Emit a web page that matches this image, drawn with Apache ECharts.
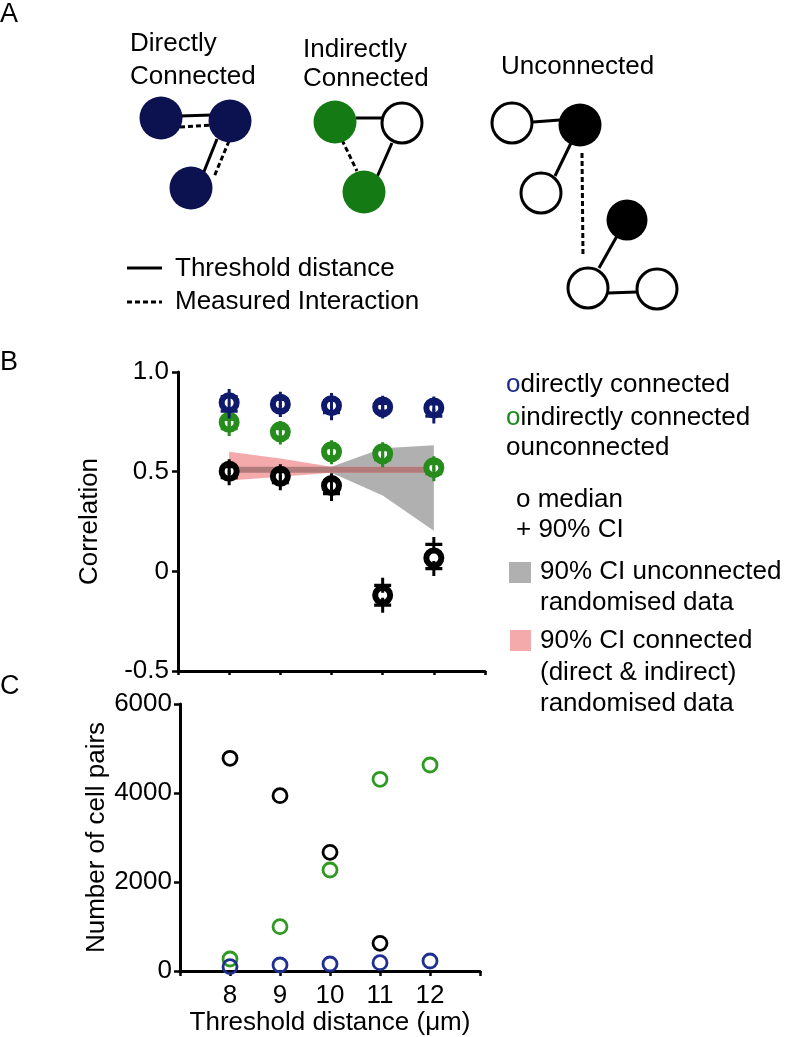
<!DOCTYPE html>
<html>
<head>
<meta charset="utf-8">
<script src="https://cdn.jsdelivr.net/npm/echarts@6/dist/echarts.min.js"></script>
<style>
html,body{margin:0;padding:0;background:#fff;}
#chart{width:787px;height:1037px;}
</style>
</head>
<body>
<div id="chart"></div>
<script>
// ---- Data ----
var thresholds = [8, 9, 10, 11, 12];
// Panel B: correlation medians and 90% CI
var directMedian   = [0.846, 0.838, 0.831, 0.825, 0.820];
var directCILow    = [0.804, 0.812, 0.796, 0.804, 0.779];
var directCIHigh   = [0.877, 0.863, 0.857, 0.843, 0.840];
var indirectMedian = [0.748, 0.700, 0.600, 0.590, 0.520];
var indirectCILow  = [0.716, 0.674, 0.575, 0.560, 0.490];
var indirectCIHigh = [0.762, 0.716, 0.620, 0.610, 0.540];
var unconnMedian   = [0.502, 0.477, 0.430, -0.120, 0.067];
var unconnCILow    = [0.470, 0.445, 0.390, -0.170, 0.014];
var unconnCIHigh   = [0.525, 0.500, 0.455, -0.070, 0.135];
// randomised-data 90% CI bands
var randUnconnLow  = [0.495, 0.495, 0.495, 0.380, 0.203];
var randUnconnHigh = [0.525, 0.525, 0.525, 0.617, 0.633];
var randConnLow    = [0.456, 0.474, 0.495, 0.495, 0.495];
var randConnHigh   = [0.600, 0.566, 0.525, 0.525, 0.525];
// Panel C: number of cell pairs (unconnected at 12 µm is hidden behind the blue marker)
var pairsDirect    = [97, 135, 157, 187, 225];
var pairsIndirect  = [270, 996, 2270, 4308, 4629];
var pairsUnconn    = [4780, 3940, 2667, 622, null];
// Tick labels
var corrTicks = [-0.5, 0, 0.5, 1.0];
var pairTicks = [0, 2000, 4000, 6000];

// ---- Styling ----
var FONT = '"Liberation Sans", Arial, Helvetica, sans-serif';
var NAVY = '#0c1150';
var NAVY_B = '#0f1a6c';
var GREEN_A = '#147a14';
var GREEN_B = '#268c1c';
var BLUE_C = '#1f2f8f';
var GREEN_C = '#2f9a22';
var GRAY_BAND = '#b0b0b0';
var PINK_BAND = '#f4aaab';
var ROSY = '#b17b7b';

var PLUS = 'path://M-1.5,-7L1.5,-7L1.5,-1.5L8.5,-1.5L8.5,1.5L1.5,1.5L1.5,7L-1.5,7L-1.5,1.5L-8.5,1.5L-8.5,-1.5L-1.5,-1.5Z';

function pairs(xs, ys) {
  var out = [];
  xs.forEach(function (x, i) { if (ys[i] != null) out.push([x, ys[i]]); });
  return out;
}
function ciPoints(xs, lo, hi) {
  var out = [];
  xs.forEach(function (x, i) { out.push([x, lo[i]]); out.push([x, hi[i]]); });
  return out;
}
function bandSeries(lo, hi, color, z) {
  return {
    type: 'custom', xAxisIndex: 0, yAxisIndex: 0, z: z, silent: true,
    data: thresholds.map(function (x, i) { return [x, lo[i], hi[i]]; }),
    encode: { x: 0, y: [1, 2] },
    renderItem: function (params, api) {
      if (params.dataIndex !== 0) return null;
      var pts = [];
      for (var i = 0; i < thresholds.length; i++) pts.push(api.coord([thresholds[i], hi[i]]));
      for (var j = thresholds.length - 1; j >= 0; j--) pts.push(api.coord([thresholds[j], lo[j]]));
      return { type: 'polygon', shape: { points: pts }, style: { fill: color } };
    }
  };
}
var overlapLow = thresholds.map(function (x, i) { return Math.max(randUnconnLow[i], randConnLow[i]); });
var overlapHigh = thresholds.map(function (x, i) { return Math.min(randUnconnHigh[i], randConnHigh[i]); });

function medianSeries(ys, color, z) {
  return {
    type: 'scatter', xAxisIndex: 0, yAxisIndex: 0, z: z,
    data: pairs(thresholds, ys), symbol: 'circle', symbolSize: 15,
    itemStyle: { color: '#fff', borderColor: color, borderWidth: 6, opacity: 1 },
    emphasis: { disabled: true }
  };
}
function ciSeries(lo, hi, color, z) {
  return {
    type: 'scatter', xAxisIndex: 0, yAxisIndex: 0, z: z,
    data: ciPoints(thresholds, lo, hi), symbol: PLUS, symbolSize: [17, 15],
    itemStyle: { color: color, opacity: 1 },
    emphasis: { disabled: true }
  };
}
function countSeries(ys, color, z) {
  return {
    type: 'scatter', xAxisIndex: 1, yAxisIndex: 1, z: z,
    data: pairs(thresholds, ys), symbol: 'circle', symbolSize: 14,
    itemStyle: { color: 'rgba(255,255,255,0)', borderColor: color, borderWidth: 2.8, opacity: 1 },
    emphasis: { disabled: true }
  };
}

// ---- Panel A diagram (illustration) ----
function circ(cx, cy, r, fill, stroke) {
  return { type: 'circle', shape: { cx: cx, cy: cy, r: r },
    style: { fill: fill, stroke: stroke || null, lineWidth: stroke ? 3 : 0 }, z: 10 };
}
function seg(x1, y1, x2, y2, dashed) {
  return { type: 'line', shape: { x1: x1, y1: y1, x2: x2, y2: y2 },
    style: { stroke: '#000', lineWidth: 3, lineDash: dashed ? [5, 3] : null }, z: 9 };
}
function txt(x, y, s, opts) {
  opts = opts || {};
  return { type: 'text', x: x, y: y, z: 20,
    style: { text: s, font: (opts.size || 26) + 'px ' + FONT, fill: opts.color || '#000',
      textAlign: opts.align || 'left', textVerticalAlign: 'middle', rich: opts.rich } };
}

var graphics = [
  txt(0, 15, 'A', { size: 27 }), txt(0, 363, 'B', { size: 27 }), txt(0, 687, 'C', { size: 27 }),
  // Directly connected
  txt(130, 44, 'Directly'), txt(130, 77, 'Connected'),
  seg(180, 116, 212, 115, false), seg(180, 127, 212, 125, true),
  seg(217, 139, 203, 174, false), seg(229, 141, 214, 177, true),
  circ(161, 118, 21.5, NAVY), circ(230, 121, 21.5, NAVY), circ(191, 188, 21.5, NAVY),
  // Indirectly connected
  txt(303, 50, 'Indirectly'), txt(303, 79, 'Connected'),
  seg(356, 118, 382, 118, false), seg(392, 143, 377, 177, false), seg(342, 140, 357, 171, true),
  circ(335, 122, 21.5, GREEN_A), circ(402, 123, 20, '#fff', '#000'), circ(364, 192, 21.5, GREEN_A),
  // Unconnected
  txt(501, 67, 'Unconnected'),
  seg(533, 122, 560, 120, false), seg(571, 143, 555, 176, false), seg(582, 153, 583, 256, true),
  seg(617, 236, 599, 268, false), seg(608, 293, 637, 292, false),
  circ(512, 123, 20, '#fff', '#000'), circ(580, 125, 21.5, '#000'), circ(541, 193, 20, '#fff', '#000'),
  circ(627, 220, 20.5, '#000'), circ(588, 288, 20, '#fff', '#000'), circ(657, 289, 20, '#fff', '#000'),
  // Legend for A
  seg(127, 268, 162, 268, false), seg(127, 302, 162, 302, true),
  txt(175, 269, 'Threshold distance'), txt(175, 302, 'Measured Interaction'),
  // Legend for B
  txt(506, 385, '{b|o}directly connected', { rich: { b: { fill: '#1a2a8a', font: '26px ' + FONT } } }),
  txt(506, 418, '{g|o}indirectly connected', { rich: { g: { fill: '#1d8a1d', font: '26px ' + FONT } } }),
  txt(506, 448, 'ounconnected'),
  txt(516, 500, 'o median'), txt(516, 530, '+ 90% CI'),
  { type: 'rect', shape: { x: 509, y: 562, width: 22, height: 21 }, style: { fill: GRAY_BAND }, z: 10 },
  txt(540, 572, '90% CI unconnected'), txt(540, 603, 'randomised data'),
  { type: 'rect', shape: { x: 510, y: 630, width: 21, height: 21 }, style: { fill: PINK_BAND }, z: 10 },
  txt(540, 641, '90% CI connected'), txt(540, 673, '(direct & indirect)'), txt(540, 704, 'randomised data')
];

var axisLineStyle = { color: '#000', width: 3 };
var option = {
  backgroundColor: '#fff',
  animation: false,
  textStyle: { fontFamily: FONT },
  grid: [
    { left: 178, top: 372, width: 307, height: 299 },
    { left: 180, top: 704, width: 300, height: 267 }
  ],
  xAxis: [
    { gridIndex: 0, type: 'value', min: 7, max: 13, interval: 1,
      axisLine: { onZero: false, lineStyle: axisLineStyle },
      axisTick: { length: 4, lineStyle: { width: 2.5, color: '#000' } },
      axisLabel: { show: false }, splitLine: { show: false } },
    { gridIndex: 1, type: 'value', min: 7, max: 13, interval: 1,
      axisLine: { onZero: false, lineStyle: axisLineStyle },
      axisTick: { length: 5, lineStyle: { width: 2.5, color: '#000' } },
      axisLabel: { margin: 12, fontSize: 26, color: '#000', fontFamily: FONT,
        formatter: function (v) { return thresholds.indexOf(v) >= 0 ? String(v) : ''; } },
      splitLine: { show: false },
      name: 'Threshold distance (\u03bcm)', nameLocation: 'middle', nameGap: 37,
      nameTextStyle: { fontSize: 26, color: '#000', fontFamily: FONT } }
  ],
  yAxis: [
    { gridIndex: 0, type: 'value', min: corrTicks[0], max: corrTicks[corrTicks.length - 1], interval: 0.5,
      axisLine: { show: true, onZero: false, lineStyle: axisLineStyle },
      axisTick: { show: true, length: 6, lineStyle: { width: 2.5, color: '#000' } },
      axisLabel: { margin: 9, fontSize: 26, color: '#000', fontFamily: FONT,
        formatter: function (v) { return v === 0 ? '0' : v.toFixed(1); } },
      splitLine: { show: false },
      name: 'Correlation', nameLocation: 'middle', nameGap: 75, nameRotate: 90,
      nameTextStyle: { fontSize: 26, color: '#000', fontFamily: FONT } },
    { gridIndex: 1, type: 'value', min: pairTicks[0], max: pairTicks[pairTicks.length - 1], interval: 2000,
      axisLine: { show: true, onZero: false, lineStyle: axisLineStyle },
      axisTick: { show: true, length: 6, lineStyle: { width: 2.5, color: '#000' } },
      axisLabel: { margin: 8, fontSize: 26, color: '#000', fontFamily: FONT,
        formatter: function (v) { return String(v); } },
      splitLine: { show: false },
      name: 'Number of cell pairs', nameLocation: 'middle', nameGap: 63, nameRotate: 90,
      nameTextStyle: { fontSize: 26, color: '#000', fontFamily: FONT } }
  ],
  graphic: graphics,
  series: [
    bandSeries(randUnconnLow, randUnconnHigh, GRAY_BAND, 1),
    bandSeries(randConnLow, randConnHigh, PINK_BAND, 2),
    bandSeries(overlapLow, overlapHigh, ROSY, 3),
    medianSeries(unconnMedian, '#000', 4),
    ciSeries(unconnCILow, unconnCIHigh, '#000', 5),
    medianSeries(indirectMedian, GREEN_B, 6),
    ciSeries(indirectCILow, indirectCIHigh, GREEN_B, 7),
    medianSeries(directMedian, NAVY_B, 8),
    ciSeries(directCILow, directCIHigh, NAVY_B, 9),
    countSeries(pairsUnconn, '#000', 4),
    countSeries(pairsIndirect, GREEN_C, 5),
    countSeries(pairsDirect, BLUE_C, 6)
  ]
};
var chart = echarts.init(document.getElementById('chart'), null, { renderer: 'canvas' });
chart.setOption(option);
</script>
</body>
</html>
